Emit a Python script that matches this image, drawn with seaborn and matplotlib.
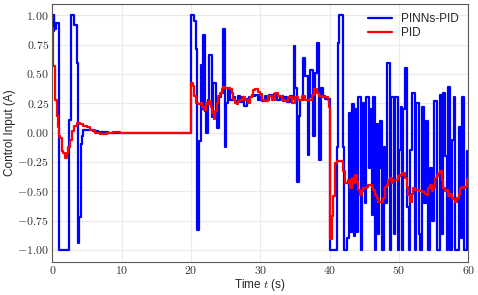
import numpy as np
import pandas as pd
import seaborn as sns
import matplotlib.pyplot as plt
from matplotlib.ticker import FuncFormatter, MultipleLocator

# PINNs-PID control input (step signal)
pinn_t = [0, 0.1, 0.2, 0.3, 0.49, 0.97, 2.41, 2.65, 3.18, 3.51, 3.66, 3.9, 4.09, 4.33,
          4.47, 5.2, 5.9, 6.64, 8.0,
          20.0, 20.44, 20.73, 20.82, 21.16, 21.4, 21.65, 21.7, 22.0, 22.1, 22.4, 22.6,
          23.0, 23.2, 23.55, 23.7, 24.0, 24.3, 24.67, 24.9,
          25.05, 25.3, 25.6, 26.0, 26.4, 26.8, 27.1, 27.4, 27.7, 28.0, 28.4, 28.8, 29.2,
          29.6, 30.0, 30.3, 30.6, 31.0, 31.3, 31.7, 32.0, 32.4, 32.8, 33.2, 33.5, 33.9,
          34.2, 34.5, 34.8, 35.0, 35.25, 35.5, 35.7, 36.2, 36.45, 36.8, 37.0, 37.2,
          37.65, 37.9, 38.1, 38.4, 38.5, 38.7, 39.0, 39.35,
          40.0, 41.0, 41.2, 41.35, 41.9, 42.1, 42.45, 42.75, 43.0, 43.2, 43.45, 43.7,
          43.9, 44.1, 44.5, 44.65, 44.8, 45.05, 45.2, 45.3, 45.6, 45.8, 46.1, 46.3, 46.5,
          46.65, 46.8, 47.0, 47.15, 47.3, 47.5, 47.8, 48.0, 48.3, 48.7, 48.9, 49.2, 49.45,
          49.8, 50.0, 50.3, 50.4, 50.6, 50.85, 51.1, 51.4, 51.6, 51.9, 52.3, 52.5, 52.8,
          53.0, 53.3, 53.6, 53.9, 54.2, 54.5, 54.8, 55.1, 55.4, 55.9, 56.2, 56.4, 56.6,
          56.9, 57.1, 57.4, 57.6, 57.9, 58.1, 58.6, 58.9, 59.0, 59.3, 59.8, 60.0]
pinn_u = [1.0, 0.87, 1.0, 0.88, 0.93, -1.0, 0.11, 1.0, 0.92, 0.59, -0.94, -0.72, -0.10, -0.03,
          0.025, 0.02, 0.01, 0.003, 0.0,
          1.0, 0.95, 0.71, -0.83, -0.07, 0.58, 0.2, 0.83, 0.18, 0.0, 0.28, 0.66,
          0.13, 0.42, 0.2, 0.04, 0.30, 0.34, 0.88, -0.12,
          0.25, 0.37, 0.28, 0.30, 0.27, 0.31, 0.26, 0.30, 0.23, 0.29, 0.30, 0.31, 0.32,
          0.28, 0.33, 0.27, 0.31, 0.28, 0.32, 0.29, 0.33, 0.28, 0.31, 0.27, 0.30, 0.26,
          0.31, 0.29, 0.74, 0.38, -0.42, 0.14, 0.28, 0.64, 0.48, -0.19, 0.30, 0.53,
          -0.03, 0.51, 0.76, 0.42, -0.23, 0.38, 0.31, 0.29,
          -1.0, -0.12, 0.76, 1.0, -0.12, -1.0, -0.9, 0.17, -0.85, 0.24, -0.88, 0.2,
          -0.85, 0.3, -1.0, -0.5, 0.25, -0.6, 0.1, 0.3, -0.3, 0.2, -0.7, 0.3, -1.0,
          -0.4, 0.07, -0.86, -0.3, 0.1, -1.0, -0.12, -0.6, 0.59, -1.0, 0.3, -0.86, 0.3,
          -1.0, -0.15, 0.22, -1.0, 0.2, 0.55, -0.63, -1.0, -0.15, 0.34, -1.0, 0.25, -0.86,
          -1.0, 0.22, -0.6, 0.1, -1.0, -0.3, -0.75, 0.27, -1.0, 0.32, -0.86, 0.34, -0.2,
          -1.0, 0.39, -1.0, -0.06, 0.3, -1.0, 0.05, -0.9, 0.3, -1.0, -0.16, -0.16]

# PID control input
pid_t = [0, 0.15, 0.39, 0.63, 0.87, 1.0, 1.11, 1.35, 1.59, 1.83, 2.07, 2.31, 2.55, 2.79,
         3.13, 3.51, 4.0, 4.47, 4.96, 5.44, 6.16, 6.88, 7.84, 8.8, 9.76,
         20.0, 20.25, 20.49, 20.73, 21.06, 21.4, 21.64, 21.93, 22.12, 22.36, 22.6, 22.89,
         23.08, 23.32, 23.47, 23.71, 23.95, 24.19, 24.43, 24.67, 24.91, 25.3, 25.63, 25.87,
         26.11, 26.35, 26.59, 26.83, 27.07, 27.31, 27.55, 27.79, 28.03, 28.27, 28.5, 28.76,
         29.0, 29.24, 29.62, 29.96, 30.2, 30.68, 31.16, 31.64, 32.12, 32.6, 33.09, 33.57,
         34.05, 34.53, 35.01, 35.49, 35.97, 36.45, 36.93, 37.41, 37.8, 38.13, 38.38, 38.86,
         39.34, 39.72, 39.9,
         40.05, 40.29, 40.53, 40.77, 41.0, 41.73, 41.97, 42.21, 42.7, 42.94, 43.18, 43.42,
         43.66, 43.9, 44.14, 44.38, 44.62, 44.86, 45.1, 45.34, 45.58, 46.06, 46.3, 46.54,
         46.78, 47.02, 47.5, 47.74, 47.98, 48.22, 48.47, 48.71, 48.95, 49.19, 49.43,
         49.91, 50.15, 50.39, 50.87, 51.11, 51.35, 51.59, 51.83, 52.07, 52.31, 52.8, 53.28,
         53.76, 54.0, 54.24, 54.48, 54.72, 54.96, 55.2, 55.44, 55.68, 55.92, 56.16, 56.4,
         56.64, 56.88, 57.12, 57.36, 57.6, 57.84, 58.08, 58.32, 58.57, 58.81, 59.05, 59.29,
         59.53, 59.77, 60.0]
pid_u = [0.89, 0.565, 0.28, 0.14, 0.05, -0.03, -0.05, -0.16, -0.17, -0.22, -0.17, -0.12,
         -0.06, 0.01, 0.053, 0.08, 0.076, 0.059, 0.045, 0.02, 0.0, -0.015, 0.0, 0.005, 0.0,
         0.42, 0.40, 0.31, 0.25, 0.24, 0.25, 0.22, 0.19, 0.25, 0.24, 0.27, 0.22,
         0.17, 0.12, 0.18, 0.25, 0.31, 0.34, 0.37, 0.39, 0.38, 0.38, 0.37, 0.34,
         0.29, 0.25, 0.24, 0.27, 0.28, 0.29, 0.30, 0.28, 0.28, 0.25, 0.30, 0.32,
         0.36, 0.37, 0.35, 0.32, 0.28, 0.27, 0.31, 0.28, 0.34, 0.31, 0.28, 0.27,
         0.30, 0.25, 0.30, 0.28, 0.31, 0.28, 0.28, 0.32, 0.37, 0.34, 0.31, 0.30,
         0.30, 0.28, 0.22,
         -0.91, -0.71, -0.54, -0.26, -0.245, -0.245, -0.33, -0.43, -0.40, -0.47, -0.39, -0.43,
         -0.36, -0.42, -0.49, -0.53, -0.50, -0.47, -0.47, -0.46, -0.45, -0.46, -0.49, -0.53,
         -0.56, -0.59, -0.59, -0.56, -0.46, -0.445, -0.40, -0.39, -0.43, -0.40, -0.40,
         -0.37, -0.36, -0.345, -0.39, -0.46, -0.53, -0.59, -0.52, -0.47, -0.49, -0.50, -0.51,
         -0.52, -0.53, -0.47, -0.445, -0.50, -0.47, -0.39, -0.37, -0.345, -0.33, -0.40, -0.47,
         -0.50, -0.49, -0.54, -0.52, -0.56, -0.57, -0.59, -0.56, -0.52, -0.47, -0.46, -0.47,
         -0.46, -0.40, -0.39]

df = pd.concat([
    pd.DataFrame({'t': pinn_t, 'u': pinn_u, 'ctrl': 'PINNs-PID'}),
    pd.DataFrame({'t': pid_t, 'u': pid_u, 'ctrl': 'PID'}),
])

sns.set_style('whitegrid', {'axes.edgecolor': '0.35', 'grid.color': '0.92',
                            'axes.linewidth': 0.8})
plt.rcParams['font.family'] = ['Liberation Sans', 'DejaVu Sans']
plt.rcParams['mathtext.fontset'] = 'cm'

fig, ax = plt.subplots(figsize=(4.78, 2.95), dpi=100)
fig.subplots_adjust(left=0.1095, right=0.98, top=0.988, bottom=0.113)

sns.lineplot(data=df, x='t', y='u', hue='ctrl',
             palette={'PINNs-PID': 'blue', 'PID': 'red'},
             estimator=None, sort=False, drawstyle='steps-post', lw=1.6, ax=ax)

ax.set_xlim(0, 60)
ax.set_ylim(-1.1, 1.1)
ax.xaxis.set_major_locator(MultipleLocator(10))
ax.yaxis.set_major_locator(MultipleLocator(0.25))
ax.xaxis.set_major_formatter(FuncFormatter(lambda v, p: f'${v:.0f}$'))
ax.yaxis.set_major_formatter(FuncFormatter(lambda v, p: f'${v:.2f}$'))
ax.tick_params(direction='in', length=2.5, width=0.6, color='0.4',
               labelsize=8.5, labelcolor='0.2', pad=2.5)
ax.grid(lw=0.8)

ax.set_xlabel('Time $t$ (s)', fontsize=8.5, labelpad=0)
ax.set_ylabel('Control Input (A)', fontsize=8.5, labelpad=1)

sns.move_legend(ax, 'upper right', title=None, frameon=False,
                fontsize=8.5, labelspacing=0.15, borderaxespad=0.4)

fig.savefig('out.png', dpi=100)
